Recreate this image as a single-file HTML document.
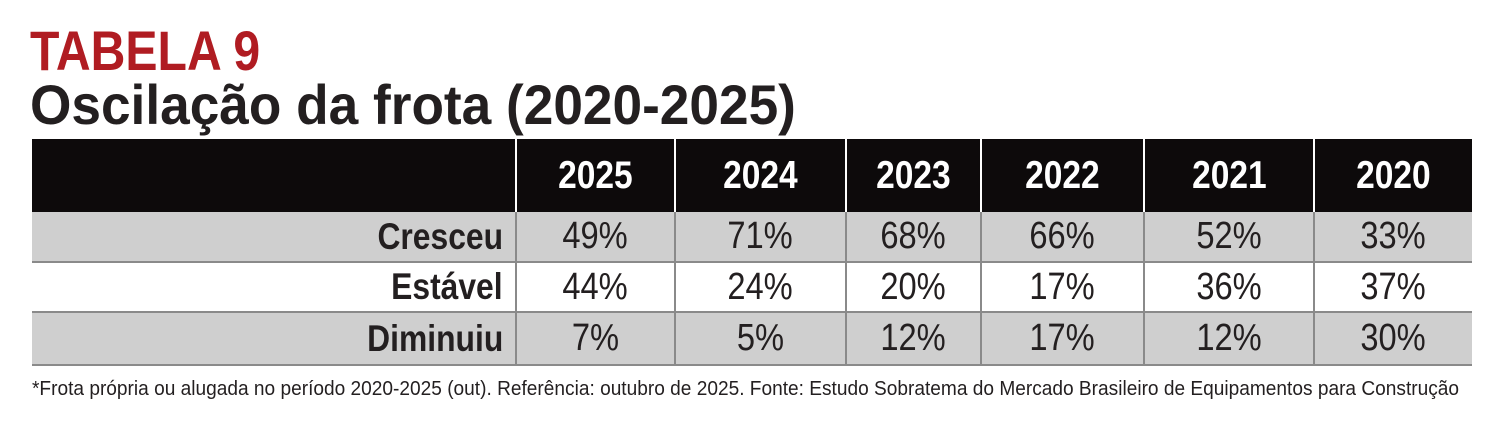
<!DOCTYPE html>
<html><head><meta charset="utf-8"><style>
body{margin:0;width:1504px;height:422px;background:#fff;position:relative;overflow:hidden;font-family:"Liberation Sans",sans-serif;color:#231f20}
.t{position:absolute;white-space:nowrap;transform-origin:0 0}
.c{position:absolute;display:flex;align-items:center;justify-content:center;box-sizing:border-box}
.c span{display:inline-block;transform:scaleX(.86);white-space:nowrap}
.h{background:#0d0a0b;color:#fff;font-weight:bold;font-size:39px}
.g{background:#cfcfcf}
.w{background:#fff}
.v{font-size:38px}
.l{font-size:37px;font-weight:bold;justify-content:flex-end;padding-right:12px}
.l span{transform-origin:100% 50%}
</style></head><body>
<div class="t" style="left:30px;top:18px;font-size:56px;font-weight:bold;color:#b01c22;transform:scaleX(.86)">TABELA 9</div>
<div class="t" style="left:30px;top:72px;font-size:56px;font-weight:bold;transform:scaleX(.95)">Oscilação da frota (2020-2025)</div>
<div id="tb"></div>
<div class="t" style="left:32px;top:378px;font-size:20px;transform:scaleX(.955)">*Frota própria ou alugada no período 2020-2025 (out). Referência: outubro de 2025. Fonte: Estudo Sobratema do Mercado Brasileiro de Equipamentos para Construção</div>
<script>
var xs=[32,515,674,845,980,1143,1313,1472];
var ys=[139,212,263,313,366];
var hdr=["","2025","2024","2023","2022","2021","2020"];
var rows=[["Cresceu","49%","71%","68%","66%","52%","33%"],["Estável","44%","24%","20%","17%","36%","37%"],["Diminuiu","7%","5%","12%","17%","12%","30%"]];
var h="";
for(var i=0;i<7;i++){
 h+='<div class="c h" style="left:'+xs[i]+'px;top:139px;width:'+(xs[i+1]-xs[i])+'px;height:73px;'+(i>0?'border-left:2px solid #fff;':'')+'"><span>'+hdr[i]+'</span></div>';
}
for(var r=0;r<3;r++){
 var bg=r==1?'w':'g';
 for(var i=0;i<7;i++){
  var cls=i==0?'l':'v';
  h+='<div class="c '+bg+' '+cls+'" style="left:'+xs[i]+'px;top:'+ys[r+1]+'px;width:'+(xs[i+1]-xs[i])+'px;height:'+(ys[r+2]-ys[r+1])+'px;border-bottom:2px solid #8a8a8a;'+(i>0?'border-left:2px solid #8a8a8a;':'')+'"><span>'+rows[r][i]+'</span></div>';
 }
}
document.getElementById('tb').innerHTML=h;
</script>
</body></html>
